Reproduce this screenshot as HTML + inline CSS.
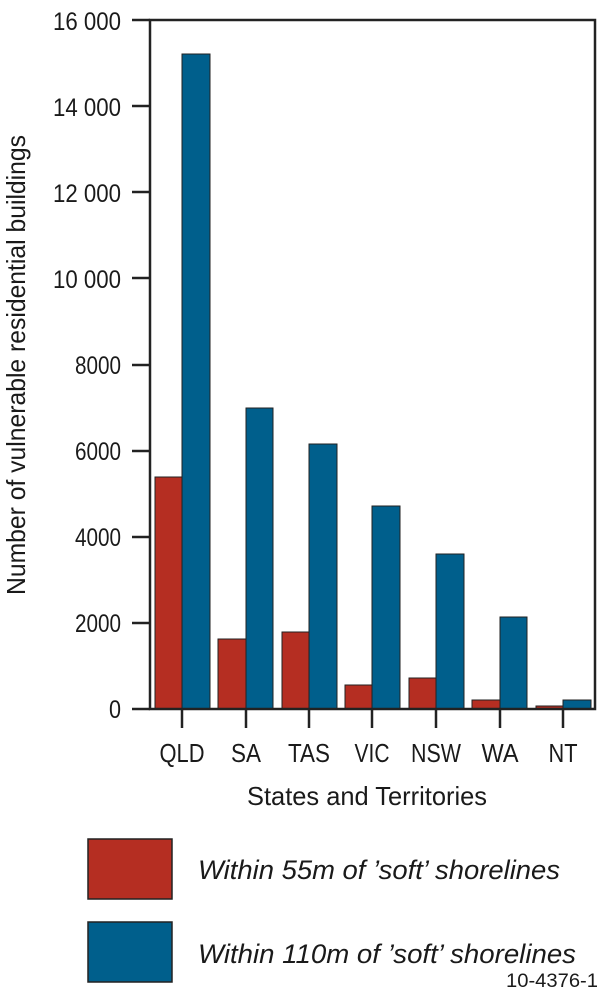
<!DOCTYPE html>
<html><head><meta charset="utf-8"><style>
html,body{margin:0;padding:0;background:#fff;}
svg{display:block;font-family:"Liberation Sans",Arial,sans-serif;}
</style></head><body>
<svg width="600" height="992" viewBox="0 0 600 992" xmlns="http://www.w3.org/2000/svg">
<g fill="#1a1a1a" font-size="25" text-anchor="end">
<text x="121" y="30" textLength="68" lengthAdjust="spacingAndGlyphs">16 000</text>
<text x="121" y="116" textLength="68" lengthAdjust="spacingAndGlyphs">14 000</text>
<text x="121" y="202" textLength="68" lengthAdjust="spacingAndGlyphs">12 000</text>
<text x="121" y="288" textLength="68" lengthAdjust="spacingAndGlyphs">10 000</text>
<text x="121" y="374" textLength="46" lengthAdjust="spacingAndGlyphs">8000</text>
<text x="121" y="460" textLength="46" lengthAdjust="spacingAndGlyphs">6000</text>
<text x="121" y="546" textLength="46" lengthAdjust="spacingAndGlyphs">4000</text>
<text x="121" y="632" textLength="46" lengthAdjust="spacingAndGlyphs">2000</text>
<text x="121" y="718" textLength="12" lengthAdjust="spacingAndGlyphs">0</text>
</g>
<g stroke="#222" stroke-width="2.5">
<line x1="132" y1="20" x2="150" y2="20"/>
<line x1="132" y1="106" x2="150" y2="106"/>
<line x1="132" y1="192" x2="150" y2="192"/>
<line x1="132" y1="278" x2="150" y2="278"/>
<line x1="132" y1="365" x2="150" y2="365"/>
<line x1="132" y1="451" x2="150" y2="451"/>
<line x1="132" y1="537" x2="150" y2="537"/>
<line x1="132" y1="623" x2="150" y2="623"/>
<line x1="132" y1="709" x2="150" y2="709"/>
</g>
<g stroke="#222" stroke-width="1">
<rect x="155" y="477" width="27" height="232" fill="#b52e22"/>
<rect x="182" y="54" width="28" height="655" fill="#005f8c"/>
<rect x="218" y="639" width="28" height="70" fill="#b52e22"/>
<rect x="246" y="408" width="27" height="301" fill="#005f8c"/>
<rect x="282" y="632" width="27" height="77" fill="#b52e22"/>
<rect x="309" y="444" width="28" height="265" fill="#005f8c"/>
<rect x="345" y="685" width="27" height="24" fill="#b52e22"/>
<rect x="372" y="506" width="28" height="203" fill="#005f8c"/>
<rect x="409" y="678" width="27" height="31" fill="#b52e22"/>
<rect x="436" y="554" width="28" height="155" fill="#005f8c"/>
<rect x="472" y="700" width="28" height="9" fill="#b52e22"/>
<rect x="500" y="617" width="27" height="92" fill="#005f8c"/>
<rect x="536" y="706" width="27" height="3" fill="#b52e22"/>
<rect x="563" y="700" width="28" height="9" fill="#005f8c"/>
</g>
<rect x="150" y="20" width="445" height="689" fill="none" stroke="#222" stroke-width="2.5"/>
<g stroke="#222" stroke-width="2.5">
<line x1="182" y1="709" x2="182" y2="728"/>
<line x1="246" y1="709" x2="246" y2="728"/>
<line x1="309" y1="709" x2="309" y2="728"/>
<line x1="372" y1="709" x2="372" y2="728"/>
<line x1="436" y1="709" x2="436" y2="728"/>
<line x1="500" y1="709" x2="500" y2="728"/>
<line x1="563" y1="709" x2="563" y2="728"/>
</g>
<g fill="#1a1a1a" font-size="26" text-anchor="middle">
<text x="182" y="762" textLength="45" lengthAdjust="spacingAndGlyphs">QLD</text>
<text x="246" y="762" textLength="30" lengthAdjust="spacingAndGlyphs">SA</text>
<text x="309" y="762" textLength="42" lengthAdjust="spacingAndGlyphs">TAS</text>
<text x="372" y="762" textLength="35" lengthAdjust="spacingAndGlyphs">VIC</text>
<text x="436" y="762" textLength="50" lengthAdjust="spacingAndGlyphs">NSW</text>
<text x="500" y="762" textLength="37" lengthAdjust="spacingAndGlyphs">WA</text>
<text x="563" y="762" textLength="29" lengthAdjust="spacingAndGlyphs">NT</text>
<text x="367" y="805" textLength="240" lengthAdjust="spacingAndGlyphs">States and Territories</text>
<text transform="translate(25,365) rotate(-90)" textLength="460" lengthAdjust="spacingAndGlyphs">Number of vulnerable residential buildings</text>
</g>
<rect x="88" y="839" width="84" height="60" fill="#b52e22" stroke="#222" stroke-width="1.5"/>
<rect x="88" y="922" width="84" height="60" fill="#005f8c" stroke="#222" stroke-width="1.5"/>
<g fill="#1a1a1a" font-size="27" font-style="italic">
<text x="198" y="879" textLength="362" lengthAdjust="spacingAndGlyphs">Within 55m of ’soft’ shorelines</text>
<text x="198" y="963" textLength="378" lengthAdjust="spacingAndGlyphs">Within 110m of ’soft’ shorelines</text>
</g>
<text x="598" y="987" font-size="19" fill="#1a1a1a" text-anchor="end" textLength="92" lengthAdjust="spacingAndGlyphs">10-4376-1</text>
</svg>
</body></html>
